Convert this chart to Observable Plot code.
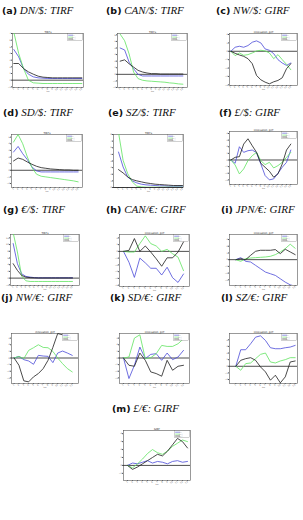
<!DOCTYPE html>
<html><head><meta charset="utf-8">
<script src="https://cdn.jsdelivr.net/npm/d3@7"></script>
<script src="https://cdn.jsdelivr.net/npm/@observablehq/plot@0.6"></script>
<style>
html,body{margin:0;padding:0;background:#fff}
body{width:303px;height:520px;position:relative;overflow:hidden}
.cap{position:absolute;font-family:"Liberation Serif",serif;font-style:italic;font-size:11px;line-height:12px;white-space:nowrap;color:#111}
.cap b{font-family:"DejaVu Sans",sans-serif;font-style:normal;font-weight:bold;font-size:9.5px}
.pan{position:absolute}
</style></head><body>
<script>
// ---- categories / labels ----
const panelIds = ["a","b","c","d","e","f","g","h","i","j","k","l","m"];
const panelCaptions = ["DN/$: TIRF","CAN/$: TIRF","NW/$: GIRF","SD/$: TIRF","SZ/$: TIRF","£/$: GIRF","€/$: TIRF","CAN/€: GIRF","JPN/€: GIRF","NW/€: GIRF","SD/€: GIRF","SZ/€: GIRF","£/€: GIRF"];
const panelTitles = ["TIRFs","TIRFs","innovation_girf","TIRFs","TIRFs","innovation_girf","TIRFs","innovation_girf","innovation_girf","innovation_girf","innovation_girf","innovation_girf","GIRF"];
const seriesNames = ["lin","reg 1","reg 2"];
const axisLabel = "hor";
const hor15 = [1,2,3,4,5,6,7,8,9,10,11,12,13,14,15];
const hor13 = [1,2,3,4,5,6,7,8,9,10,11,12,13];
const hor12 = [1,2,3,4,5,6,7,8,9,10,11,12];

// ---- series values (blue, green, black) ----
const aBlue  = [4.6,3.5,1.75,0.9,0.5,0.35,0.3,0.25,0.25,0.25,0.25,0.25,0.25,0.25,0.25];
const aGreen = [7.2,4.0,1.75,0.0,-0.4,-0.45,-0.5,-0.5,-0.5,-0.5,-0.5,-0.5,-0.5,-0.5,-0.5];
const aBlack = [2.5,2.5,1.75,1.25,0.9,0.6,0.45,0.4,0.35,0.35,0.35,0.35,0.35,0.35,0.35];

const bBlue  = [4.0,3.7,1.85,0.85,0.0,-0.25,-0.25,-0.25,-0.25,-0.25,-0.25,-0.25,-0.25,-0.25,-0.25];
const bGreen = [6.1,5.1,3.1,0.35,-0.65,-0.9,-1.0,-1.05,-1.1,-1.15,-1.2,-1.3,-1.35,-1.45,-1.5];
const bBlack = [2.0,2.2,1.6,1.1,0.6,0.35,0.2,0.1,0.1,0.05,0.05,0.05,0.05,0.05,0.05];

const cBlue  = [0,0.48,0.6,0.48,0.68,1.08,1.24,1.0,0.28,0.12,-0.28,-1.0,-1.4,-1.68,-1.4];
const cGreen = [0,-0.52,-0.2,-0.48,-0.4,-0.2,0.04,0.12,0.04,-0.2,-0.88,-0.4,-1.0,-1.56,-2.2];
const cBlack = [0,-0.24,-0.44,-0.6,-0.88,-1.48,-2.88,-3.4,-3.68,-3.88,-3.64,-3.48,-3.16,-2.08,-1.48];

const dBlue  = [2.75,3.6,2.5,1.6,0.5,-0.1,-0.25,-0.25,-0.25,-0.25,-0.25,-0.25,-0.25,-0.25,-0.25];
const dGreen = [4.25,5.4,4.0,2.0,0.4,-0.6,-0.9,-1.0,-1.1,-1.2,-1.3,-1.4,-1.5,-1.6,-1.75];
const dBlack = [1.4,1.85,1.65,1.25,0.9,0.6,0.4,0.3,0.2,0.15,0.1,0.05,0.05,0.0,0.0];

const eBlue  = [5.35,3.1,1.6,1.0,0.7,0.5,0.4,0.35,0.3,0.25,0.25,0.2,0.2,0.2,0.2];
const eGreen = [8.3,4.1,2.1,0.85,0.2,0.1,0.05,0.05,0.05,0.05,0.05,0.05,0.05,0.05,0.05];
const eBlack = [2.7,2.2,1.6,1.2,1.0,0.85,0.7,0.6,0.5,0.45,0.4,0.35,0.3,0.3,0.3];

const fBlue  = [0,-0.5,2.0,1.15,1.4,1.5,1.1,-0.6,-2.35,-3.0,-2.85,-2.0,-1.1,-0.35,1.5];
const fGreen = [0,-0.75,-2.1,-1.35,-0.1,0.65,1.15,-0.1,-0.7,-0.35,-1.2,-0.85,-0.35,0.4,1.15];
const fBlack = [0,0.4,0.5,2.4,3.2,2.15,1.15,-0.5,-1.1,-1.7,-2.6,-2.1,-0.6,1.5,2.4];

const gBlue  = [10.3,4.3,1.3,0.5,0.3,0.15,0.1,0.1,0.1,0.1,0.1,0.1,0.1,0.1,0.1];
const gGreen = [13.5,7.8,0.6,-0.8,-1.0,-1.0,-1.0,-1.0,-1.0,-1.0,-1.0,-1.0,-1.0,-1.0,-1.0];
const gBlack = [4.3,2.3,0.8,0.3,0.15,0.1,0.05,0.05,0.05,0.05,0.05,0.05,0.05,0.05,0.05];

const hBlue  = [0,-1.6,-3.85,-1.0,-1.7,-2.5,-2.5,-3.5,-2.35,-3.9,-4.6,-3.35];
const hGreen = [0,-0.1,-0.1,1.15,2.3,1.15,0.8,0.0,0.3,-0.35,-0.85,-2.85];
const hBlack = [0,0.15,1.9,0.0,0.8,-0.1,-1.1,-2.2,-0.95,-0.95,-0.1,1.4];

const iBlue  = [0,0.3,-0.25,-0.35,-0.85,-1.35,-1.85,-2.1,-2.35,-2.85,-3.35,-3.75,-3.95];
const iGreen = [0,-0.25,0.15,0.25,0.3,0.35,0.4,0.5,0.75,1.15,1.65,2.3,1.7];
const iBlack = [0,0.15,0.0,0.65,1.25,1.4,1.4,1.4,1.5,0.9,1.55,1.15,0.75];

const jBlue  = [0,0.25,-0.25,-0.45,-0.95,0.4,0.3,0.25,-0.7,0.75,1.05,0.75,0.4];
const jGreen = [0,0.25,-0.1,1.15,1.55,2.0,1.6,1.55,1.0,0.0,-0.85,-1.6,-2.1];
const jBlack = [0,-1.1,-3.45,-3.6,-2.85,-2.35,-1.6,-0.35,1.6,3.7,3.5,3.2,3.0];

const kBlue  = [0,-3.1,-1.1,1.65,-0.1,0.55,0.65,-0.35,0.75,-0.25,0.15,1.15];
const kGreen = [0,0.15,3.0,3.5,-0.1,0.05,0.65,1.9,1.75,1.75,2.15,2.9];
const kBlack = [0,-1.1,-1.25,0.75,-0.35,-2.1,-2.35,-2.75,-0.35,-1.85,-1.25,-1.1];

const lBlue  = [0,2.5,2.5,3.4,4.4,4.6,3.9,2.8,2.65,2.65,2.8,2.9,3.15];
const lGreen = [0,-0.6,0.4,0.5,1.15,1.8,2.0,0.65,0.5,0.8,1.0,1.3,1.3];
const lBlack = [0,0.9,1.15,1.3,0.9,-0.1,-0.85,-2.1,-1.35,-2.5,-1.6,0.65,0.8];

const mBlue  = [0,0.3,0.2,0.4,0.6,0.3,0.5,0.4,0.2,0.5,0.6,0.4,0.5];
const mGreen = [0,-0.3,0.2,0.8,1.5,2.0,1.6,1.4,1.8,2.4,2.8,3.2,3.0];
const mBlack = [0,-0.5,-0.2,0.2,0.6,1.0,1.4,1.2,1.8,2.6,3.4,3.0,2.2];

const blueSeries  = [aBlue,bBlue,cBlue,dBlue,eBlue,fBlue,gBlue,hBlue,iBlue,jBlue,kBlue,lBlue,mBlue];
const greenSeries = [aGreen,bGreen,cGreen,dGreen,eGreen,fGreen,gGreen,hGreen,iGreen,jGreen,kGreen,lGreen,mGreen];
const blackSeries = [aBlack,bBlack,cBlack,dBlack,eBlack,fBlack,gBlack,hBlack,iBlack,jBlack,kBlack,lBlack,mBlack];
const horizons = [hor15,hor15,hor15,hor15,hor15,hor15,hor15,hor12,hor13,hor13,hor12,hor13,hor13];

// ---- layout (positions / scales config) ----
const boxes = [[12,33,83,87],[117,33,187,87],[229,33,297,85],[11,134,82,187],[113,134,183,187],[229,131,297,184],
  [10,234,79,285],[119,234,189,286],[229,234,297,285],[11,333,78,383],[119,333,189,383],[229,333,297,383],[123,430,190,480]];
const xDomains = [[0.73,15.34],[0.41,16.03],[0.69,16.56],[0.57,15.94],[-0.1,15.22],[0.69,16.56],[0.37,16.66],
  [0.27,13.1],[-0.27,13.47],[0.46,14.29],[0.27,13.1],[-0.27,13.47],[0.2,13.6]];
const yDomains = [[-1.1,7],[-2,6.2],[-4.08,2.12],[-2.6,5.4],[0,8],[-3.7,4.3],[-2.2,13],[-5.2,2.5],[-3.85,3.75],
  [-3.85,3.7],[-3.85,3.7],[-2.6,4.95],[-1.9,4.4]];
const capPos = [[2,4],[106,4],[216,4],[3,106],[108,106],[219,106],[3,203],[106,203],[221,203],[1,291],[110,291],[221,291],[112,402]];
const colors = ["#4a4ad8","#5fe35f","#1c1c1c"];

const mL = 10, mR = 2, mT = 6, mB = 7;

panelIds.forEach((id, i) => {
  const cap = document.createElement("div");
  cap.className = "cap";
  cap.style.left = capPos[i][0] + "px";
  cap.style.top = capPos[i][1] + "px";
  cap.innerHTML = "<b>(" + id + ")</b> ";
  cap.appendChild(document.createTextNode(panelCaptions[i]));
  document.body.appendChild(cap);

  const [L, T, R, B] = boxes[i];
  const w = R - L + mL + mR, h = B - T + mT + mB;
  const hs = horizons[i];
  const mk = (arr) => arr.map((v, j) => ({h: hs[j], v}));
  const svg = Plot.plot({
    width: w, height: h,
    marginLeft: mL, marginRight: mR, marginTop: mT, marginBottom: mB,
    style: {fontSize: "2.2px", fontFamily: "DejaVu Sans", background: "transparent", color: "#555", overflow: "visible"},
    x: {domain: xDomains[i]},
    y: {domain: yDomains[i]},
    marks: [
      Plot.frame({stroke: "#555", strokeWidth: 0.6}),
      Plot.axisX({ticks: hs, tickSize: 0.8, tickPadding: 0.4, label: null, tickFormat: d => String(d), tickRotate: -30}),
      Plot.axisY({ticks: 7, tickSize: 1, tickPadding: 0.6, label: null}),
      Plot.ruleY([0], {stroke: "#222", strokeWidth: 0.8}),
      Plot.line(mk(blueSeries[i]), {x: "h", y: "v", stroke: colors[0], strokeWidth: 0.8, clip: true}),
      Plot.line(mk(greenSeries[i]), {x: "h", y: "v", stroke: colors[1], strokeWidth: 0.8, clip: true}),
      Plot.line(mk(blackSeries[i]), {x: "h", y: "v", stroke: colors[2], strokeWidth: 0.8, clip: true}),
      Plot.text([panelTitles[i]], {frameAnchor: "top", dy: -2, fontSize: 2.6, fill: "#222", text: d => d}),
      Plot.text([axisLabel], {frameAnchor: "bottom", dy: 4.8, fontSize: 1.8, fill: "#555", text: d => d})
    ]
  });
  // small legend box in the top-right corner of the frame
  const fx = w - mR, fy = mT;
  const g = d3.select(svg).append("g");
  g.append("rect").attr("x", fx - 15.5).attr("y", fy + 0.8).attr("width", 14.7).attr("height", 6.4)
    .attr("fill", "#fff").attr("stroke", "#666").attr("stroke-width", 0.3);
  seriesNames.forEach((nm, k) => {
    const yy = fy + 2.2 + k * 1.9;
    g.append("line").attr("x1", fx - 14.8).attr("x2", fx - 10).attr("y1", yy).attr("y2", yy)
      .attr("stroke", colors[k]).attr("stroke-width", 0.6);
    g.append("text").attr("x", fx - 9.3).attr("y", yy + 0.55).attr("font-size", 1.6).attr("fill", "#888").text(nm);
  });
  const wrap = document.createElement("div");
  wrap.className = "pan";
  wrap.style.left = (L - mL) + "px";
  wrap.style.top = (T - mT) + "px";
  wrap.appendChild(svg);
  document.body.appendChild(wrap);
});
</script>
</body></html>
